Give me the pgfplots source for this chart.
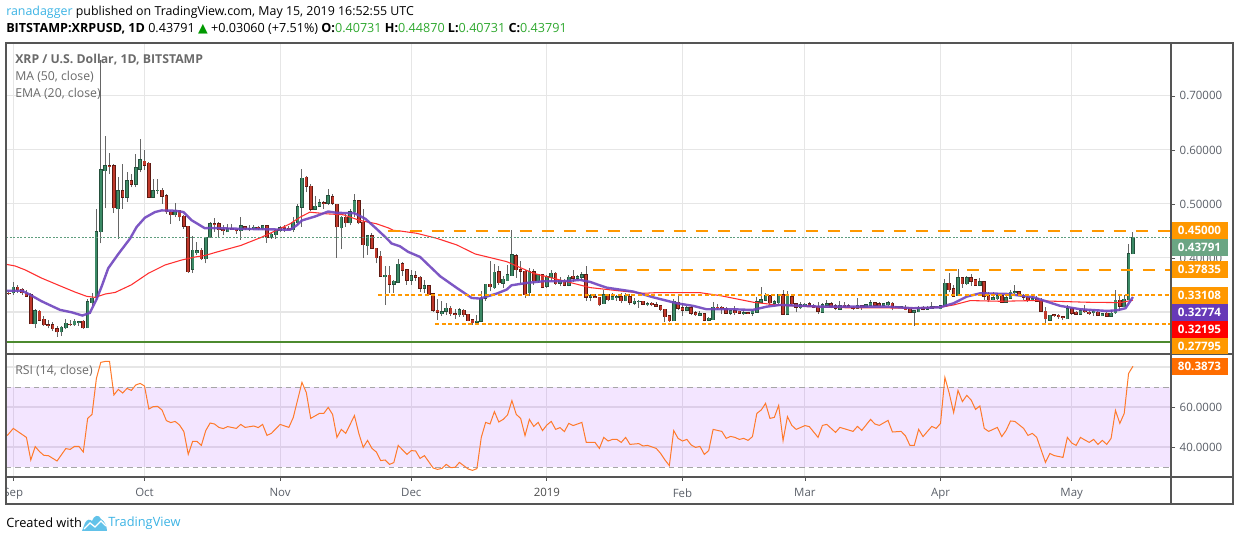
\documentclass[border=0pt]{standalone}
\usepackage{fontspec}
\usepackage{pgfplots}
\usepackage{pgfplotstable}
\pgfplotsset{compat=1.18}
\setmainfont{Open Sans}
\newfontfamily\symfont{DejaVu Sans}

\definecolor{frameline}{HTML}{555555}
\definecolor{gridline}{HTML}{E6E6E6}
\definecolor{ticktext}{HTML}{5A5F68}
\definecolor{paneltext}{HTML}{6A6A6A}
\definecolor{wick}{HTML}{666666}
\definecolor{upfill}{HTML}{3C8A66}
\definecolor{upedge}{HTML}{24503C}
\definecolor{downfill}{HTML}{C0392B}
\definecolor{downedge}{HTML}{5E1A12}
\definecolor{maline}{HTML}{FF2E2E}
\definecolor{emaline}{HTML}{6F45BE}
\definecolor{level}{HTML}{FF9800}
\definecolor{support}{HTML}{4C8A2F}
\definecolor{lastprice}{HTML}{5F9E7E}
\definecolor{tagorange}{HTML}{FF9800}
\definecolor{taggreen}{HTML}{6BA583}
\definecolor{tagpurple}{HTML}{673AB7}
\definecolor{tagred}{HTML}{FF0000}
\definecolor{tagrsi}{HTML}{FF6D00}
\definecolor{rsiline}{HTML}{FF7A2B}
\definecolor{rsiband}{HTML}{9C27FF}
\definecolor{tvblue}{HTML}{3BB3E4}
\definecolor{quote}{HTML}{2FA82F}

% candles: day (0 = 1 Sep 2018), low, body bottom, body top, high
\pgfplotstableread{
d l b t h
0 .3320 .3350 .3460 .3564
5 .2701 .2775 .3026 .3062
11 .2555 .2628 .2714 .2738
12 .2677 .2701 .2799 .2861
14 .2738 .2757 .2824 .2861
15 .2738 .2806 .2818 .2818
17 .2701 .2701 .3191 .3240
18 .3105 .3173 .3258 .3350
19 .3228 .3258 .4488 .4911
20 .4268 .4482 .5633 .7667
21 .4917 .5615 .5706 .6257
24 .4360 .4905 .5247 .5504
26 .5033 .5125 .5431 .5584
28 .5309 .5364 .5670 .5921
29 .5584 .5639 .5817 .6196
32 .5125 .5125 .5247 .5462
33 .5186 .5247 .5260 .5462
37 .4758 .4795 .4880 .5015
41 .3730 .3791 .4146 .4403
42 .4054 .4097 .4134 .4287
44 .3901 .3987 .4391 .4391
45 .4378 .4390 .4634 .4665
49 .4481 .4481 .4543 .4634
52 .4329 .4500 .4597 .4756
54 .4500 .4524 .4549 .4603
55 .4512 .4543 .4567 .4603
57 .4512 .4536 .4597 .4603
59 .4360 .4384 .4439 .4481
60 .4360 .4427 .4512 .4543
61 .4475 .4500 .4561 .4585
64 .4481 .4524 .4658 .4756
65 .4604 .4646 .4951 .5000
66 .4573 .4939 .5476 .5640
69 .4902 .4902 .4963 .5153
70 .4939 .4957 .5024 .5092
72 .4988 .5012 .5153 .5274
75 .4158 .4555 .4750 .4786
77 .4604 .4646 .4860 .4909
78 .4756 .4848 .5061 .5183
81 .4055 .4225 .4414 .4420
85 .3127 .3646 .3682 .3853
87 .3353 .3512 .3573 .3585
88 .3536 .3548 .3890 .3981
91 .3507 .3587 .3673 .3772
94 .3353 .3439 .3488 .3599
98 .2921 .2970 .3007 .3211
99 .2952 .3013 .3075 .3168
102 .2908 .2952 .3044 .3075
106 .2810 .2810 .2834 .2952
107 .2828 .2828 .3260 .3383
108 .3211 .3254 .3519 .3519
110 .3427 .3451 .3741 .3896
112 .3445 .3532 .3612 .3673
113 .3569 .3581 .3692 .3877
114 .3673 .3673 .4062 .4525
118 .3303 .3353 .3747 .3815
120 .3538 .3581 .3692 .3710
122 .3445 .3476 .3655 .3692
123 .3569 .3643 .3723 .3785
125 .3476 .3532 .3581 .3649
127 .3476 .3495 .3649 .3692
129 .3587 .3624 .3655 .3692
130 .3599 .3643 .3692 .3735
132 .3198 .3272 .3303 .3340
135 .3155 .3155 .3321 .3401
137 .3216 .3229 .3284 .3352
138 .3204 .3272 .3284 .3315
140 .3198 .3210 .3309 .3352
142 .3136 .3161 .3198 .3266
143 .3074 .3186 .3198 .3216
145 .3105 .3142 .3155 .3192
151 .2834 .2834 .3204 .3241
154 .3013 .3031 .3081 .3118
157 .2933 .2939 .2970 .3019
159 .2828 .2846 .2889 .2908
160 .2859 .2859 .3093 .3179
164 .2945 .2976 .3025 .3044
167 .2951 .2976 .2988 .3031
169 .2933 .2976 .3013 .3044
170 .2994 .2994 .3192 .3278
171 .3179 .3179 .3229 .3463
172 .3198 .3216 .3315 .3352
174 .3124 .3161 .3192 .3229
175 .3155 .3167 .3321 .3321
177 .2957 .2957 .3290 .3383
180 .3056 .3074 .3136 .3186
181 .3105 .3118 .3148 .3167
185 .2994 .2994 .3136 .3167
186 .3105 .3124 .3155 .3216
189 .3044 .3050 .3118 .3198
193 .3056 .3068 .3118 .3259
195 .3074 .3087 .3136 .3155
196 .3105 .3124 .3173 .3216
199 .3118 .3124 .3155 .3155
200 .3118 .3130 .3173 .3198
202 .3068 .3087 .3099 .3118
203 .3068 .3087 .3099 .3111
206 .2747 .2994 .3025 .3025
207 .2994 .3007 .3093 .3105
209 .3044 .3050 .3087 .3105
210 .3056 .3068 .3099 .3185
211 .3068 .3087 .3099 .3111
212 .3056 .3062 .3118 .3136
213 .3105 .3105 .3537 .3617
216 .3303 .3303 .3636 .3796
218 .3506 .3525 .3636 .3660
221 .3475 .3494 .3562 .3630
224 .3216 .3229 .3266 .3371
225 .3216 .3241 .3303 .3352
227 .3168 .3180 .3266 .3291
228 .3242 .3254 .3371 .3414
229 .3303 .3359 .3377 .3495
233 .3198 .3223 .3248 .3303
237 .2840 .2847 .2945 .2951
241 .2871 .2871 .3063 .3137
244 .2952 .2958 .3026 .3056
247 .2921 .2982 .3013 .3044
249 .2921 .2927 .2970 .2982
251 .2915 .2921 .2982 .3044
252 .2970 .2982 .3223 .3414
254 .3093 .3100 .3242 .3316
255 .3229 .3229 .4081 .4266
256 .40731 .40731 .43791 .44870
}\upcandles

\pgfplotstableread{
d l b t h
-1 .3320 .3340 .3350 .3370
1 .3350 .3411 .3460 .3503
2 .3320 .3350 .3424 .3440
3 .3289 .3289 .3350 .3399
4 .2781 .2781 .3320 .3350
6 .2830 .2848 .3020 .3044
7 .2738 .2757 .2873 .2934
8 .2695 .2751 .2763 .2848
9 .2646 .2683 .2763 .2812
10 .2542 .2628 .2689 .2738
13 .2738 .2757 .2775 .2848
16 .2689 .2701 .2824 .2848
22 .5553 .5694 .5706 .5939
23 .4831 .4923 .5706 .5737
25 .4905 .5125 .5247 .5737
27 .5309 .5364 .5431 .5553
30 .5627 .5713 .5798 .6000
31 .5125 .5125 .5755 .5768
34 .5003 .5143 .5260 .5296
35 .4819 .4850 .5156 .5186
36 .4635 .4795 .4844 .4880
38 .4684 .4758 .4880 .4880
39 .4544 .4586 .4770 .4788
40 .3717 .3748 .4586 .4586
43 .3962 .3987 .4146 .4176
46 .4481 .4610 .4634 .4744
47 .4378 .4524 .4634 .4665
48 .4420 .4500 .4524 .4603
50 .4524 .4524 .4549 .4634
51 .4439 .4500 .4530 .4543
53 .4512 .4536 .4579 .4597
56 .4512 .4536 .4567 .4585
58 .4280 .4384 .4597 .4597
62 .4481 .4549 .4573 .4603
63 .4512 .4518 .4549 .4585
67 .5213 .5323 .5500 .5525
68 .4878 .4902 .5329 .5366
71 .4908 .5012 .5024 .5049
73 .4988 .5012 .5134 .5183
74 .4006 .4573 .5000 .5000
76 .4573 .4646 .4750 .4817
79 .4622 .4646 .5061 .5061
80 .4006 .4244 .4658 .4909
82 .4164 .4176 .4414 .4463
83 .3902 .4006 .4176 .4176
84 .3658 .3658 .4036 .4128
86 .3353 .3512 .3682 .3853
89 .3673 .3772 .3896 .3926
90 .3507 .3587 .3785 .3785
92 .3581 .3643 .3673 .3766
93 .3365 .3439 .3649 .3673
95 .3303 .3322 .3488 .3488
96 .2995 .3032 .3340 .3340
97 .2859 .2995 .3038 .3242
100 .2921 .2970 .3075 .3118
101 .2871 .2958 .2970 .3056
103 .2908 .2952 .3038 .3056
104 .2828 .2840 .2964 .2964
105 .2766 .2803 .2859 .2871
109 .3383 .3470 .3519 .3951
111 .3501 .3538 .3747 .3846
115 .3630 .3785 .4044 .4081
116 .3538 .3754 .3785 .3939
117 .3260 .3316 .3760 .3785
119 .3507 .3581 .3747 .3803
121 .3439 .3457 .3692 .3710
124 .3501 .3525 .3723 .3735
126 .3476 .3495 .3550 .3612
128 .3562 .3624 .3667 .3785
131 .3211 .3272 .3692 .3846
133 .3260 .3272 .3285 .3340
134 .3106 .3137 .3279 .3279
136 .3198 .3229 .3321 .3340
139 .3167 .3210 .3284 .3352
141 .3130 .3179 .3284 .3334
144 .3130 .3142 .3198 .3210
146 .3105 .3136 .3161 .3186
147 .3105 .3105 .3136 .3186
148 .3013 .3044 .3118 .3136
149 .2809 .2914 .3056 .3056
150 .2809 .2840 .2933 .2945
152 .3031 .3068 .3186 .3340
153 .2933 .3031 .3081 .3167
155 .2939 .2976 .3081 .3105
156 .2933 .2945 .2988 .3013
158 .2828 .2846 .2970 .2970
161 .3044 .3074 .3093 .3142
162 .2970 .3068 .3093 .3105
163 .2963 .2976 .3074 .3087
165 .2951 .2988 .3025 .3105
166 .2963 .2976 .3013 .3013
168 .2963 .2976 .2988 .3000
173 .3136 .3167 .3303 .3303
176 .2957 .2957 .3321 .3414
178 .3105 .3155 .3284 .3340
179 .2994 .3087 .3155 .3167
182 .3105 .3124 .3155 .3179
183 .3068 .3087 .3124 .3155
184 .2969 .3013 .3099 .3179
187 .3068 .3105 .3155 .3179
188 .3031 .3068 .3118 .3155
190 .3068 .3105 .3130 .3179
191 .3068 .3081 .3118 .3142
192 .3044 .3068 .3093 .3105
194 .3044 .3087 .3118 .3136
197 .3105 .3124 .3173 .3192
198 .3105 .3118 .3155 .3185
201 .3031 .3087 .3167 .3179
204 .3031 .3044 .3093 .3136
205 .2982 .2994 .3056 .3068
208 .3031 .3050 .3093 .3105
214 .3364 .3414 .3537 .3722
215 .3278 .3290 .3432 .3506
217 .3445 .3525 .3636 .3636
219 .3488 .3568 .3636 .3710
220 .3488 .3494 .3599 .3599
222 .3229 .3290 .3562 .3562
223 .3179 .3229 .3303 .3377
226 .3168 .3180 .3303 .3322
230 .3303 .3309 .3377 .3383
231 .3229 .3272 .3316 .3340
232 .3186 .3223 .3279 .3291
234 .3186 .3198 .3248 .3291
235 .3013 .3013 .3211 .3254
236 .2797 .2871 .3019 .3093
238 .2908 .2927 .2951 .2964
239 .2871 .2908 .2939 .2958
240 .2847 .2890 .2915 .2933
242 .2952 .2976 .3063 .3087
243 .2945 .2958 .3001 .3026
245 .2982 .3001 .3026 .3137
246 .2952 .2964 .3001 .3044
248 .2927 .2939 .3001 .3019
250 .2915 .2921 .2982 .2995
253 .3013 .3106 .3223 .3316
}\downcandles

% one candle set: wicks, then body edge, then body fill
\newcommand{\candles}[3]{%
  \addplot[forget plot, draw=none, no markers, error bars/.cd, y dir=plus, y explicit, error mark=none,
    error bar style={draw=wick, line width=0.75pt}]
    table[x=d, y=l, y error plus expr=\thisrow{h}-\thisrow{l}] {#1};
  \addplot[forget plot, draw=none, no markers, error bars/.cd, y dir=plus, y explicit, error mark=none,
    error bar style={draw=#2, line width=2.7pt}]
    table[x=d, y expr=\thisrow{b}-0.0006, y error plus expr=\thisrow{t}-\thisrow{b}+0.0012] {#1};
  \addplot[forget plot, draw=none, no markers, error bars/.cd, y dir=plus, y explicit, error mark=none,
    error bar style={draw=#3, line width=1.6pt}]
    table[x=d, y=b, y error plus expr=\thisrow{t}-\thisrow{b}] {#1};
}

\pgfplotsset{
  panel/.style={
    scale only axis,
    axis on top=false,
    xmin=-1.67, xmax=264.7,
    xtick={0,30,61,91,122,153,181,212,242},
    grid=major,
    grid style={draw=gridline, line width=0.8pt},
    axis line style={draw=frameline, line width=1pt},
    ytick pos=right,
    yticklabel pos=right,
    xtick pos=bottom,
    tick align=outside,
    major tick length=3pt,
    tick style={draw=frameline, line width=0.6pt},
    ticklabel style={text=ticktext, font=\fontsize{8.6}{10}\selectfont},
    clip=true,
  },
}

\begin{document}
\begin{tikzpicture}
\path[use as bounding box] (0,0) rectangle (925.5pt,405.75pt);

\begin{axis}[panel,
    name=price,
    at={(4.5pt,140.25pt)}, anchor=south west,
    width=873.75pt, height=233.25pt,
    ymin=0.2222, ymax=0.798,
    ytick={0.3,0.4,0.5,0.6,0.7},
    xticklabels={},
    x tick style={draw=none},
    major x tick style={draw=none},
    yticklabel style={/pgf/number format/.cd, fixed, fixed zerofill, precision=5, assume math mode=true},
]
\candles{\downcandles}{downedge}{downfill}
\candles{\upcandles}{upedge}{upfill}

% MA 50
\addplot[forget plot, draw=maline, line width=0.8pt] coordinates {
(-1.7,.3883)(.4,.3852)(2.7,.3779)(6.5,.3626)(11,.3473)(14.1,.3369)(16.8,.3289)(18.7,.3271)(21,.3332)(23.3,.3362)
(27,.3503)(30.9,.3717)(34.7,.3870)(38.5,.3962)(41.5,.4017)(43.8,.4045)(46.5,.4109)(52,.4231)(56.6,.4378)(61,.4543)
(63.3,.4634)(65.6,.4756)(67.8,.4848)(71.7,.4817)(75.5,.4799)(79.2,.4695)(83,.4634)(85.8,.4555)(86.9,.4512)(88.4,.4500)
(92.2,.4457)(96.8,.4364)(101.4,.4241)(105.6,.4074)(112.8,.3932)(118.9,.3716)(125,.3593)(131.9,.3451)(138,.3396)
(144.1,.3346)(147.1,.3358)(157,.3358)(161.6,.3303)(169.2,.3180)(174.5,.3130)(184.5,.3090)(192,.3075)(199.7,.3075)
(205.8,.3069)(211.9,.3087)(215,.3130)(218.8,.3211)(225.7,.3198)(233.3,.3211)(245.5,.3180)(253.1,.3173)(256,.32195)};

% EMA 20
\addplot[forget plot, draw=emaline, line width=1.8pt, opacity=0.9] coordinates {
(-1.7,.3393)(2,.3393)(3.4,.3338)(6.5,.3197)(10.7,.3038)(13.3,.2995)(15.8,.2934)(17.5,.2983)(19,.3228)(20.2,.3473)
(21.7,.3809)(24,.4072)(26.7,.4360)(28.2,.4574)(30.1,.4746)(32.4,.4850)(33.9,.4880)(37,.4874)(38.9,.4850)(40.8,.4697)
(43.8,.4550)(45,.4555)(50.3,.4543)(58,.4530)(63.3,.4524)(64.8,.4604)(66,.4695)(69,.4768)(72,.4860)(74,.4835)
(78,.4829)(80.5,.4725)(83,.4543)(85.4,.4360)(86.5,.4268)(88.4,.4216)(90.3,.4112)(93,.4019)(97.6,.3661)(101.4,.3445)
(104.8,.3260)(106.7,.3248)(110.5,.3340)(112.8,.3414)(113.9,.3494)(117.4,.3538)(121.2,.3569)(125.8,.3569)(129.6,.3593)
(131.9,.3556)(134.2,.3490)(135.7,.3450)(141.8,.3377)(146.3,.3272)(151.7,.3161)(155.5,.3112)(158.5,.3050)(164.7,.3050)
(169,.3037)(172.3,.3099)(175.3,.3130)(179,.3118)(184.4,.3099)(192,.3099)(199.7,.3099)(205.8,.3069)(211.9,.3087)
(215,.3161)(218,.3285)(221.1,.3346)(227.2,.3334)(233.3,.3272)(236.3,.3192)(239.4,.3112)(244,.3050)(250.1,.3019)
(252.4,.3032)(254.3,.3069)(256,.32774)};

% horizontal levels
\addplot[forget plot, draw=level, line width=1.5pt, dash pattern=on 9pt off 7.5pt] coordinates {(85.6,.45)(264.7,.45)};
\addplot[forget plot, draw=level, line width=1.5pt, dash pattern=on 9pt off 7.5pt] coordinates {(132.5,.37835)(264.7,.37835)};
\addplot[forget plot, draw=level, line width=1.5pt, dash pattern=on 3pt off 2pt] coordinates {(83.4,.33108)(264.7,.33108)};
\addplot[forget plot, draw=level, line width=1.5pt, dash pattern=on 3pt off 2pt] coordinates {(96.4,.27795)(264.7,.27795)};
\addplot[forget plot, draw=support, line width=1.5pt] coordinates {(-1.67,.2444)(264.7,.2444)};
\addplot[forget plot, draw=lastprice, line width=0.6pt, dash pattern=on 1.5pt off 1.2pt] coordinates {(-1.67,.43791)(264.7,.43791)};
\end{axis}

\begin{axis}[panel,
    name=rsi,
    at={(4.5pt,48pt)}, anchor=south west,
    width=873.75pt, height=92.25pt,
    ymin=25, ymax=86.5,
    ytick={40,60,80},
    xticklabels={Sep,Oct,Nov,Dec,{\color{black!70}2019},Feb,Mar,Apr,May},
    yticklabel style={/pgf/number format/.cd, fixed, fixed zerofill, precision=4, assume math mode=true},
    xticklabel style={yshift=-2pt},
]
\addplot[forget plot, fill=rsiband, fill opacity=0.12, draw=none] coordinates {(-1.67,30)(264.7,30)(264.7,70)(-1.67,70)} -- cycle;
\addplot[forget plot, draw=black!35, line width=0.6pt, dash pattern=on 4pt off 3pt] coordinates {(-1.67,70)(264.7,70)};
\addplot[forget plot, draw=black!35, line width=0.6pt, dash pattern=on 4pt off 3pt] coordinates {(-1.67,30)(264.7,30)};
\addplot[forget plot, draw=rsiline, line width=0.75pt] coordinates {
(-1.4,45.7)(0,49.3)(3,44.8)(4,33.5)(5,40.2)(6,37.7)(7,35.8)(8,35.7)(10,33)(12,39.2)(13,38.8)(14,40.3)(15,40.3)(16,37.5)
(17,54.3)(18,56.3)(19,74.3)(20,82.3)(21,82.8)(22,82.8)(23,66)(24,68.8)(25,67)(26,69.3)(27,68.3)(28,71)(29,71.8)(30,70.5)
(31,59)(32,60.2)(33,60.3)(34,58.5)(35,53.2)(36,52.2)(37,52.8)(38,51)(39,47.7)(40,36.3)(41,42.8)(42,42.8)(43,40.8)(44,48.2)
(45,52)(46,51.5)(47,49.8)(48,49.2)(49,50.2)(51,49.3)(52,51.3)(53,49.8)(55,50.5)(56,49.7)(57,51.3)(58,45.8)(59,46.8)(61,51.3)
(63,49.8)(64,54.7)(65,63.5)(66,72.3)(67,67.2)(68,54.3)(70,56.8)(71,56.8)(72,59.8)(73,56.3)(74,44.8)(75,48.8)(76,46.8)(78,55.7)
(79,46.8)(80,39.8)(81,43.3)(82,39.3)(83,37.5)(84,33.2)(85,33.5)(86,31.3)(87,32.2)(88,40.8)(90,36.3)(91,38.2)(92,38)(93,34.3)
(94,35.7)(96,29.5)(97,28.8)(98,29.3)(99,31.3)(100,29.7)(101,29.8)(102,32.3)(104,29)(105,28.3)(106,29.2)(107,44.8)(108,52.3)
(109,51.5)(110,57.7)(111,52.5)(112,53.8)(113,56)(114,63.2)(115,56.3)(116,54.3)(117,45.7)(118,53.8)(119,50.3)(120,52.3)(121,48.2)
(122,51)(123,52.8)(124,48.8)(125,49.7)(126,47.7)(127,51.8)(128,50.7)(130,52.3)(131,42.3)(133,42.3)(134,39.3)(135,44.8)(136,43)
(137,43.8)(138,43.8)(139,42.3)(140,44.8)(141,41.3)(143,41.7)(144,40.5)(145,40.8)(147,39.3)(148,36.8)(149,33.5)(150,30.7)
(151,48.2)(152,44.3)(153,43)(154,43.8)(155,41)(156,39.8)(157,40.3)(158,36.3)(159,38.2)(160,48.8)(162,47.8)(163,44.3)(164,45.3)
(165,44.8)(166,43.8)(167,44.3)(168,43.3)(169,45.2)(170,56.8)(171,58.5)(172,61.8)(173,54.3)(174,54.8)(175,60.8)(176,43.2)(177,55.2)
(178,50.8)(179,48.8)(181,50.7)(182,50.2)(184,44.8)(185,50.8)(186,51.3)(188,47.3)(189,49.8)(192,47.8)(193,50.3)(194,48.3)(196,53.8)
(197,51.5)(198,50.8)(200,53.3)(201,47.5)(203,47.8)(204,45.5)(205,40.8)(206,40.8)(207,48.8)(208,45.2)(210,50.3)(211,49.3)(212,51.8)
(213,74.8)(214,66.8)(215,57.2)(216,68.3)(217,62.7)(218,65.8)(219,63.5)(220,58.8)(221,60.5)(222,49.3)(223,47.8)(225,49.8)(226,45.2)
(227,48.3)(228,53)(229,52.8)(231,49.3)(232,45.8)(233,46.8)(234,44.8)(236,32.3)(237,36.8)(238,35.7)(240,34.8)(241,44.8)(242,42)
(243,40.8)(244,44.8)(245,43.5)(246,42.3)(247,43.8)(248,41.3)(249,43.3)(250,41.3)(251,44.3)(252,58.3)(253,51.8)(254,56.8)(255,76.8)(256,80.3873)};
\end{axis}

% everything below is placed in image pixels, y downwards
\begin{scope}[x=0.75pt, y=-0.75pt, yshift=405.75pt]
\fill[white] (0,482) rectangle (5.4,504);
\draw[frameline, line width=1pt] (6,43) rectangle (1233,504);
\draw[frameline, line width=1pt] (1171,354) -- (1233,354);
\draw[frameline, line width=1pt] (1171,477) -- (1233,477);
\draw[frameline, line width=1pt] (1171,43) -- (1171,504);

\newcommand{\pricetag}[4]{%
  \fill[#1] (1171.5,#2) rectangle (1227.5,#3);
  \node[text=white, font=\fontsize{8.7}{10}\selectfont\bfseries, inner sep=0pt] at (1199.5,{(#2+#3)/2}) {#4};}
\pricetag{tagorange}{222}{239}{0.45000}
\pricetag{taggreen}{239}{256}{0.43791}
\pricetag{tagorange}{261}{278}{0.37835}
\pricetag{tagorange}{287}{304}{0.33108}
\pricetag{tagpurple}{304}{321}{0.32774}
\pricetag{tagred}{321}{338}{0.32195}
\begin{scope}
\clip (1171,330) rectangle (1234,353.6);
\pricetag{tagorange}{338}{355}{0.27795}
\end{scope}
\pricetag{tagrsi}{358}{375}{80.3873}

\node[anchor=west, inner sep=0pt, font=\fontsize{9.3}{11}\selectfont] at (6,12)
  {\textcolor{tvblue}{ranadagger} published on TradingView.com, May 15, 2019 16:52:55 UTC};
\node[anchor=west, inner sep=0pt, font=\fontsize{9.45}{11}\selectfont] at (6,29)
  {\textbf{BITSTAMP:XRPUSD, 1D} 0.43791 {\symfont\textcolor{green!60!black}{▲}} +0.03060 (+7.51\%) \textbf{O:}\textcolor{quote}{0.40731} \textbf{H:}\textcolor{quote}{0.44870} \textbf{L:}\textcolor{quote}{0.40731} \textbf{C:}\textcolor{quote}{0.43791}};

\node[anchor=west, inner sep=0pt, text=paneltext, font=\fontsize{9.2}{11}\selectfont\bfseries] at (15,60) {XRP / U.S. Dollar, 1D, BITSTAMP};
\node[anchor=west, inner sep=0pt, text=paneltext, font=\fontsize{9.2}{11}\selectfont] at (15,77) {MA (50, close)};
\node[anchor=west, inner sep=0pt, text=paneltext, font=\fontsize{9.2}{11}\selectfont] at (15,94) {EMA (20, close)};
\node[anchor=west, inner sep=0pt, text=paneltext, font=\fontsize{9.2}{11}\selectfont] at (15,371) {RSI (14, close)};

\node[anchor=west, inner sep=0pt, font=\fontsize{9.6}{11}\selectfont] at (6,523) {Created with};
% logo
\fill[tvblue!80] (82,531) -- (85,523) .. controls (87,519) and (90,519) .. (92,521) .. controls (94,515) and (99,514) .. (101,519) .. controls (105,521) and (107,527) .. (107,531) -- cycle;
\draw[white, line width=1pt] (84,529) -- (90,523) -- (95,527) -- (101,521) -- (106,526);
\node[anchor=west, inner sep=0pt, text=tvblue, font=\fontsize{9.6}{11}\selectfont] at (108,523) {TradingView};
\end{scope}
\end{tikzpicture}
\end{document}
